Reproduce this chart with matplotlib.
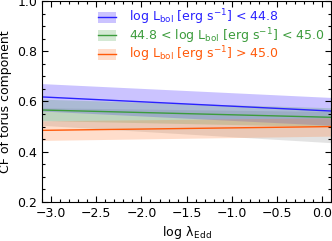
import numpy as np
import matplotlib
matplotlib.use("Agg")
import matplotlib.pyplot as plt
from matplotlib.ticker import MultipleLocator
from matplotlib.patches import Patch
from matplotlib.lines import Line2D

# x range of the fits (log lambda_Edd)
x_ends = [-3.1, 0.1]

# fitted CF lines and their 1-sigma bands, read at the two x ends
blue_line = [0.618, 0.562]
blue_lo = [0.562, 0.505]
blue_hi = [0.671, 0.616]

green_line = [0.566, 0.537]
green_lo = [0.524, 0.500]
green_hi = [0.609, 0.575]

orange_line = [0.485, 0.500]
orange_lo = [0.445, 0.462]
orange_hi = [0.523, 0.535]

# whole sample band (no line drawn)
gray_lo = [0.505, 0.436]
gray_hi = [0.575, 0.560]

labels = [r"log L$_{\rm bol}$ [erg s$^{-1}$] < 44.8",
          r"44.8 < log L$_{\rm bol}$ [erg s$^{-1}$] < 45.0",
          r"log L$_{\rm bol}$ [erg s$^{-1}$] > 45.0"]

c_blue = "#2a22ff"
c_green = "#3c9c3c"
c_orange = "#ff5a0a"

plt.rcParams["font.family"] = "DejaVu Sans"
plt.rcParams["mathtext.default"] = "regular"

fig = plt.figure(figsize=(3.32, 2.41), dpi=100)
ax = fig.add_axes([0.127, 0.162, 0.870, 0.834])

ax.fill_between(x_ends, gray_lo, gray_hi, color="#b0b0b0", alpha=0.35, lw=0)
ax.fill_between(x_ends, blue_lo, blue_hi, color="#6a55ff", alpha=0.35, lw=0)
ax.fill_between(x_ends, green_lo, green_hi, color="#3c9c3c", alpha=0.22, lw=0)
ax.fill_between(x_ends, orange_lo, orange_hi, color="#ff7a30", alpha=0.25, lw=0)

ax.plot(x_ends, blue_line, color=c_blue, lw=1)
ax.plot(x_ends, green_line, color=c_green, lw=1)
ax.plot(x_ends, orange_line, color=c_orange, lw=1)

ax.set_xlim(-3.1, 0.1)
ax.set_ylim(0.2, 1.0)
ax.xaxis.set_major_locator(MultipleLocator(0.5))
ax.xaxis.set_minor_locator(MultipleLocator(0.1))
ax.yaxis.set_major_locator(MultipleLocator(0.2))
ax.yaxis.set_minor_locator(MultipleLocator(0.05))
ax.tick_params(which="both", direction="in", top=True, right=True, labelsize=9)
ax.tick_params(which="major", length=4.5, width=0.8)
ax.tick_params(which="minor", length=2.3, width=0.8)

ax.set_xlabel(r"log $\lambda_{\, \rm Edd}$", fontsize=9, labelpad=3)
ax.set_ylabel("CF of torus component", fontsize=9, labelpad=4)

handles = []
for c, fc, a in [(c_blue, "#6a55ff", 0.35), (c_green, "#3c9c3c", 0.22), (c_orange, "#ff7a30", 0.25)]:
    handles.append((Patch(facecolor=fc, alpha=a, lw=0), Line2D([], [], color=c, lw=1)))
leg = ax.legend(handles, labels, loc="upper right", frameon=False, fontsize=9,
                handlelength=1.45, handleheight=1.0, handletextpad=1.0,
                labelspacing=-0.1, borderaxespad=0.15, borderpad=0.4)
for t, c in zip(leg.get_texts(), [c_blue, c_green, c_orange]):
    t.set_color(c)

fig.savefig("out.png", dpi=100)
